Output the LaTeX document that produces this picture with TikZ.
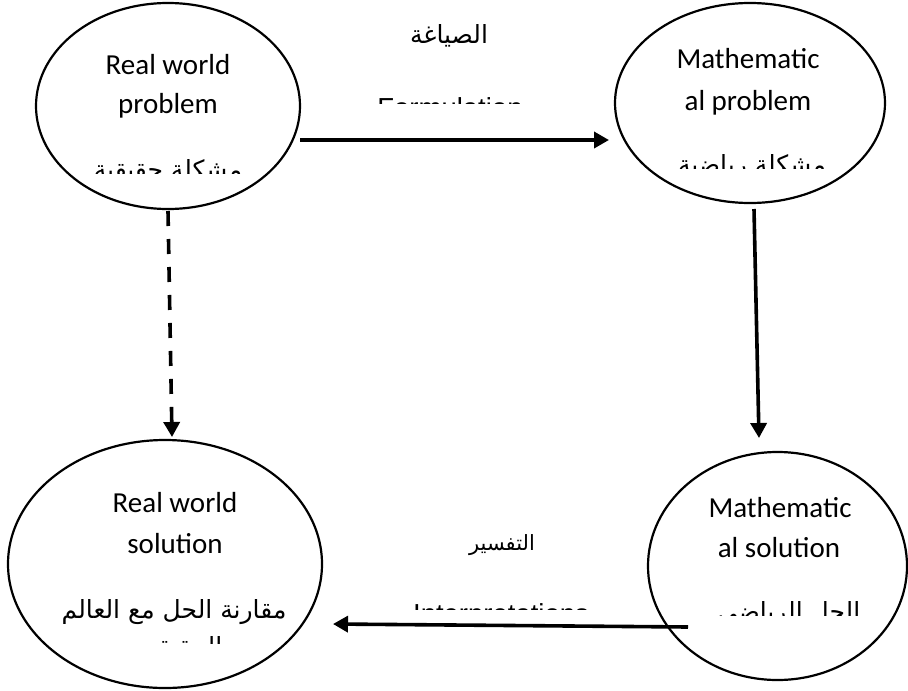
\documentclass[tikz,border=0pt]{standalone}
\usepackage{fontspec}
\setmainfont{Carlito}
\newfontfamily\arabicfont[Script=Arabic]{DejaVu Sans}
\newfontfamily\arialfont{Liberation Sans}
\TeXXeTstate=1
\usetikzlibrary{arrows.meta,shapes.geometric}
\tikzset{
  oval/.style={draw,line width=2.2pt,ellipse,inner sep=0pt},
  entext/.style={anchor=base,inner sep=0pt,font=\fontsize{29}{35}\selectfont},
  artext/.style={anchor=base,inner sep=0pt,font=\arabicfont\fontsize{#1}{30}\selectfont},
  artext/.default=25,
  lbltext/.style={anchor=base,inner sep=0pt,font=\arialfont\fontsize{27.5}{33}\selectfont},
  flow/.style={line width=3.6pt,-{Triangle[length=15pt,width=16pt]}},
  dflow/.style={flow,dash pattern=on 15pt off 13pt}
}
\begin{document}
\begin{tikzpicture}[x=1pt,y=-1pt]
\useasboundingbox (0,0) rectangle (908,691);
% ellipses
\node[oval,minimum width=264pt,minimum height=206pt] (rwp) at (168,106) {};
\node[oval,minimum width=270pt,minimum height=200pt] (mp) at (750,103) {};
\node[oval,minimum width=314pt,minimum height=248pt] (rws) at (165,564) {};
\node[oval,minimum width=259pt,minimum height=228pt] (ms) at (777.5,566) {};
% texts in ellipses
\node[entext] (t1a) at (168,74) {Real world};
\node[entext] (t1b) at (168,113) {problem};
\node[entext] (t2a) at (748,68) {Mathematic};
\node[entext] (t2b) at (748,110) {al problem};
\node[entext] (t3a) at (175,512) {Real world};
\node[entext] (t3b) at (175,553) {solution};
\node[entext] (t4a) at (780,517) {Mathematic};
\node[entext] (t4b) at (779,557) {al solution};
\node[artext] (t3c) at (174,618) {\beginR مقارنة الحل مع العالم\endR};
\begin{scope}
\clip (0,0) rectangle (908,173);
\node[artext] (t1c) at (168,178) {\beginR مشكلة حقيقية\endR};
\end{scope}
\begin{scope}
\clip (0,0) rectangle (908,168);
\node[artext] (t2c) at (752,173) {\beginR مشكلة رياضية\endR};
\end{scope}
\begin{scope}
\clip (0,0) rectangle (908,615);
\node[artext] (t4c) at (789,620) {\beginR الحل الرياضي\endR};
\end{scope}
\begin{scope}
\clip (0,0) rectangle (908,643);
\node[artext] (t3d) at (180,655) {\beginR الحقيقي\endR};
\end{scope}
% arrow labels
\node[artext] (lf) at (449,43) {\beginR الصياغة\endR};
\node[artext=21] (li) at (502,550) {\beginR التفسير\endR};
\begin{scope}
\clip (0,0) rectangle (908,103);
\node[lbltext] (lfe) at (450,117) {Formulation};
\end{scope}
\begin{scope}
\clip (0,0) rectangle (908,609);
\node[lbltext] (lie) at (501,623) {Interpretations};
\end{scope}
% connector end points
\coordinate (f1) at (300,140);
\coordinate (f2) at (609,140);
\coordinate (v1) at (754,209);
\coordinate (v2) at (759,438);
\coordinate (d1) at (168,211);
\coordinate (d2) at (172,437);
\coordinate (i1) at (688,627);
\coordinate (i2) at (333,624);
\draw[flow] (f1) -- (f2);
\draw[flow] (v1) -- (v2);
\draw[dflow] (d1) -- (d2);
\draw[flow] (i1) -- (i2);
\end{tikzpicture}
\end{document}
